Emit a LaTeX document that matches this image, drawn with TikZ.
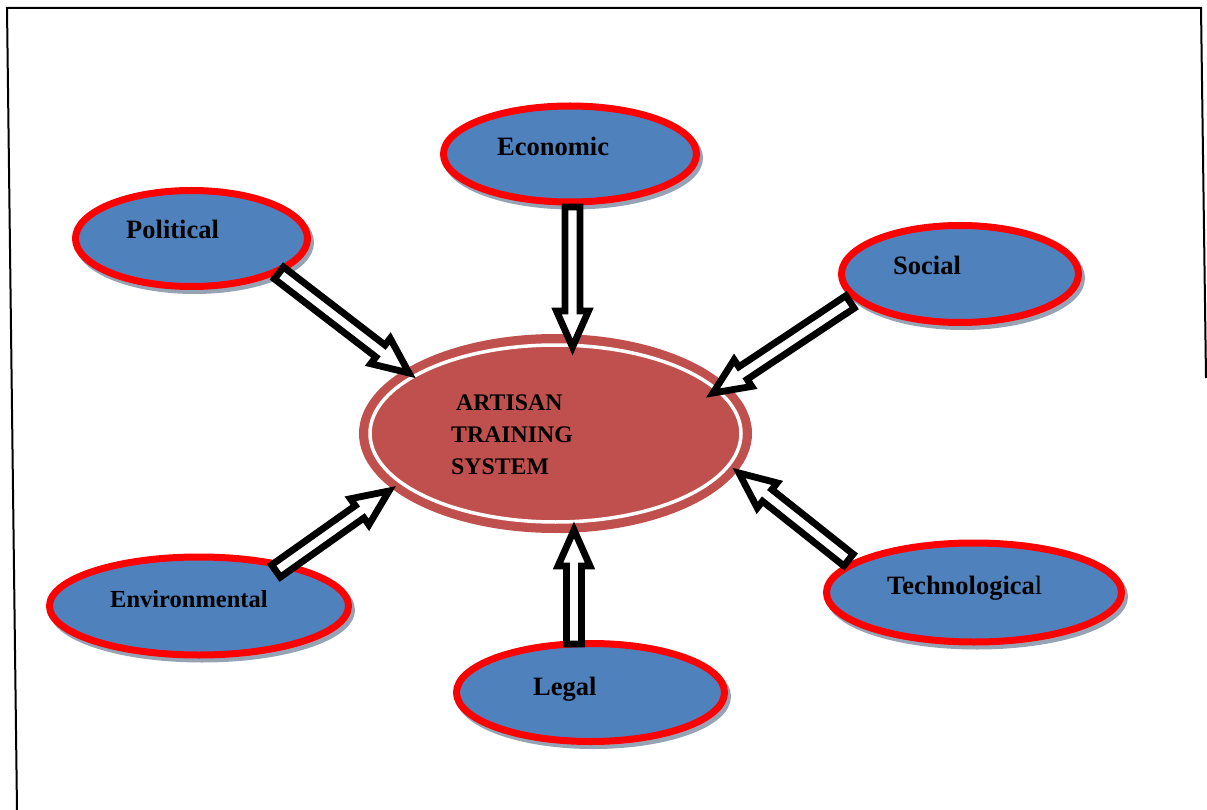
\documentclass[tikz,border=0pt]{standalone}
\usepackage{fontspec}
\setmainfont{Liberation Serif}
\usetikzlibrary{shapes.geometric,calc}
\definecolor{satblue}{RGB}{79,129,189}
\definecolor{corered}{RGB}{192,80,77}
\definecolor{shade}{RGB}{150,163,181}
\tikzset{
  sat/.style={ellipse, fill=satblue, draw=red, line width=7pt, inner sep=0pt,
    preaction={draw=shade, fill=shade, line width=7pt, transform canvas={xshift=3pt,yshift=-4pt}}},
  corebox/.style={ellipse, fill=corered, inner sep=0pt, minimum width=393pt, minimum height=199pt},
  lab/.style={font=\fontsize{26.5}{30}\selectfont\bfseries, inner sep=0pt, anchor=base west},
  coretext/.style={align=left, font=\fontsize{23.8}{32}\selectfont\bfseries, inner sep=0pt, anchor=west},
  barrow/.style={draw=black, fill=white, line width=6.8pt, line join=miter}
}
\newcommand\blockarrow[2]{%
  \coordinate (h#1) at ($(#2)!36pt!(#1)$);
  \draw[barrow] ($(#1)!7.5pt!90:(#2)$) -- ($(h#1)!7.5pt!90:(#2)$) -- ($(h#1)!16pt!90:(#2)$)
    -- (#2) -- ($(h#1)!16pt!-90:(#2)$) -- ($(h#1)!7.5pt!-90:(#2)$) -- ($(#1)!7.5pt!-90:(#2)$) -- cycle;
}
\begin{document}
\begin{tikzpicture}[x=1pt,y=-1pt]
\useasboundingbox (0,0) rectangle (1207,810);
% frame
\draw[line width=2pt] (17,810) -- (7,8) -- (1201,8) -- (1206,378);
% core
\node[corebox] (core) at (555.5,433.5) {};
\draw[white, line width=3.5pt] (core.center) ellipse [x radius=185.5pt, y radius=88.5pt];
\node[coretext] (coret) at (451,435) {\hspace*{5pt}ARTISAN\\TRAINING\\SYSTEM};
% satellites
\node[sat, minimum width=253pt, minimum height=96pt] (econ) at (570,154) {};
\node[lab] (econt) at (497,156) {Economic};
\node[sat, minimum width=232pt, minimum height=96pt] (pol) at (191.5,238.5) {};
\node[lab] (polt) at (126,239) {Political};
\node[sat, minimum width=237pt, minimum height=97pt] (soc) at (960,274) {};
\node[lab] (soct) at (893,275) {Social};
\node[sat, minimum width=299pt, minimum height=98pt] (env) at (199,606) {};
\node[lab, font=\fontsize{24.5}{30}\selectfont\bfseries] (envt) at (110,607) {Environmental};
\node[sat, minimum width=268pt, minimum height=98pt] (leg) at (590.5,692.5) {};
\node[lab] (legt) at (533,695) {Legal};
\node[sat, minimum width=295pt, minimum height=99pt] (tech) at (974,592.5) {};
\node[lab] (techt) at (887,594) {Technologica{\mdseries l}};
% arrow end points
\coordinate (econA) at (572.5,207);
\coordinate (econB) at (572.5,347);
\coordinate (polA) at (279,273);
\coordinate (polB) at (409,373);
\coordinate (socA) at (850,302);
\coordinate (socB) at (713,393);
\coordinate (envA) at (276,571);
\coordinate (envB) at (389,491);
\coordinate (legA) at (574,644);
\coordinate (legB) at (574,530);
\coordinate (techA) at (848.5,560);
\coordinate (techB) at (739,473);
\blockarrow{econA}{econB}
\blockarrow{polA}{polB}
\blockarrow{socA}{socB}
\blockarrow{envA}{envB}
\blockarrow{legA}{legB}
\blockarrow{techA}{techB}
\end{tikzpicture}
\end{document}
